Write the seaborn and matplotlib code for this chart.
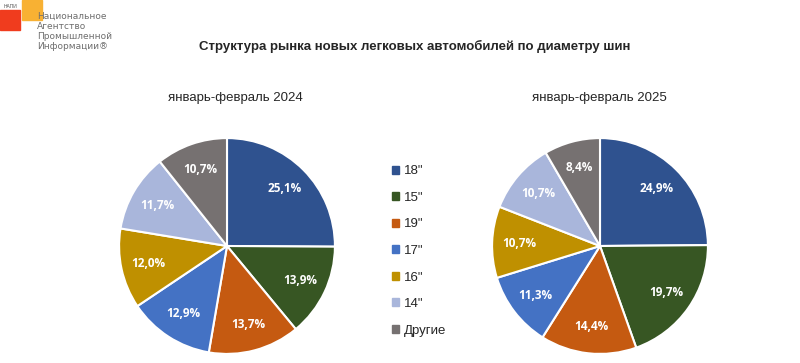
import matplotlib
matplotlib.use('Agg')
import matplotlib.pyplot as plt
import matplotlib.patches as mpatches
import seaborn as sns

# Data
categories = ['18"', '15"', '19"', '17"', '16"', '14"', 'Другие']
share_2024 = [25.1, 13.9, 13.7, 12.9, 12.0, 11.7, 10.7]
share_2025 = [24.9, 19.7, 14.4, 11.3, 10.7, 10.7, 8.4]
period_labels = ['январь-февраль 2024', 'январь-февраль 2025']
title = 'Структура рынка новых легковых автомобилей по диаметру шин'

colors = ['#2F528F', '#375623', '#C55A11', '#4472C4', '#BF9000', '#A9B6DB', '#767171']

sns.set_style('white')
plt.rcParams['font.family'] = ['Liberation Sans', 'DejaVu Sans']

fig = plt.figure(figsize=(8, 3.63), dpi=100)

W, H = 800, 363
r_px = 109


def pie_axes(cx, cy):
    w = 2 * r_px / W
    h = 2 * r_px / H
    return fig.add_axes([cx / W - w / 2, 1 - cy / H - h / 2, w, h])


def fmt(p):
    return f'{p:.1f}'.replace('.', ',') + '%'


for cx, tx, values, label in [(227, 235, share_2024, period_labels[0]),
                              (600, 599, share_2025, period_labels[1])]:
    ax = pie_axes(cx, 246)
    wedges, texts, autotexts = ax.pie(
        values, colors=colors, startangle=90, counterclock=False,
        autopct=fmt, pctdistance=0.75, radius=1,
        wedgeprops=dict(edgecolor='white', linewidth=1.5),
        textprops=dict(color='white', fontsize=8.5, fontweight='bold',
                       family=['Open Sans', 'DejaVu Sans']))
    ax.set_xlim(-1.01, 1.01)
    ax.set_ylim(-1.01, 1.01)
    ax.set_aspect('equal')
    ax.axis('off')
    fig.text(tx / W, 1 - 98 / H, label, ha='center', va='center', fontsize=9.5)

fig.text(415 / W, 1 - 46 / H, title, ha='center', va='center',
         fontsize=9.5, fontweight='bold')

# Legend
handles = [mpatches.Patch(color=c, label=l) for c, l in zip(colors, categories)]
fig.legend(handles=handles, loc='center left', bbox_to_anchor=(380 / W, 1 - 251 / H),
           frameon=False, fontsize=9.5, handlelength=0.55, handleheight=0.55,
           handletextpad=0.35, labelspacing=1.1)

# Logo
fig.patches.append(mpatches.Rectangle((0, 1 - 30 / H), 20 / W, 20 / H,
                                      transform=fig.transFigure, color='#F03C1E'))
fig.patches.append(mpatches.Rectangle((22 / W, 1 - 20 / H), 20 / W, 20 / H,
                                      transform=fig.transFigure, color='#F8B133'))
fig.text(4 / W, 1 - 6 / H, 'НАПИ', fontsize=3.5, color='#555555', va='center')
logo_lines = ['Национальное', 'Агентство', 'Промышленной', 'Информации®']
for i, line in enumerate(logo_lines):
    fig.text(37 / W, 1 - (16 + i * 10.3) / H, line, fontsize=6.5, color='#6E6E6E',
             va='center', family=['Liberation Sans Narrow', 'DejaVu Sans'])

fig.savefig('out.png', dpi=100)
